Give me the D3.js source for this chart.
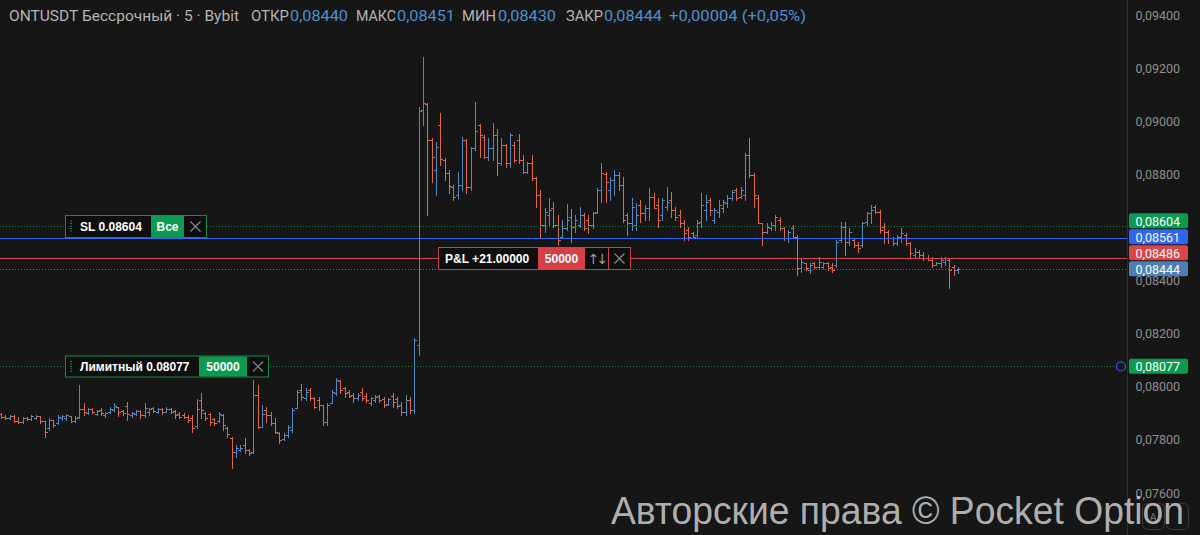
<!DOCTYPE html>
<html><head><meta charset="utf-8">
<script src="https://cdn.jsdelivr.net/npm/d3@7"></script>
<style>html,body{margin:0;padding:0;background:#161616;overflow:hidden}</style>
</head><body><svg id="c" width="1200" height="535"></svg>
<script>
// ---------- DATA ----------
const opens = [
0.07898,0.07887,0.07883,0.07890,0.07871,0.07868,0.07883,0.07879,0.07883,0.07890,
0.07871,0.07845,0.07875,0.07864,0.07883,0.07883,0.07890,0.07871,0.07887,0.07917,
0.07902,0.07917,0.07898,0.07913,0.07894,0.07905,0.07913,0.07924,0.07909,0.07928,
0.07894,0.07898,0.07909,0.07894,0.07905,0.07920,0.07905,0.07917,0.07905,0.07917,
0.07909,0.07898,0.07894,0.07887,0.07883,0.07853,0.07950,0.07902,0.07898,0.07879,
0.07871,0.07894,0.07845,0.07807,0.07755,0.07762,0.07781,0.07762,0.07755,0.07969,
0.07849,0.07913,0.07894,0.07864,0.07826,0.07804,0.07819,0.07838,0.07920,0.07988,
0.07958,0.07988,0.07958,0.07950,0.07932,0.07868,0.07939,0.07977,0.08022,0.07996,
0.07981,0.07969,0.07958,0.07981,0.07966,0.07939,0.07950,0.07966,0.07954,0.07935,
0.07966,0.07954,0.07932,0.07905,0.07950,0.07913,0.08158,0.09042,0.09065,0.08929,
0.08816,0.08986,0.08854,0.08805,0.08752,0.08722,0.08760,0.08929,0.08752,0.08899,
0.08986,0.08941,0.08865,0.08899,0.08948,0.08843,0.08911,0.08843,0.08911,0.08929,
0.08854,0.08809,0.08843,0.08786,0.08722,0.08609,0.08647,0.08673,0.08609,0.08564,
0.08598,0.08640,0.08602,0.08609,0.08647,0.08628,0.08609,0.08658,0.08741,0.08801,
0.08741,0.08779,0.08798,0.08760,0.08647,0.08617,0.08609,0.08685,0.08655,0.08673,
0.08715,0.08685,0.08647,0.08677,0.08704,0.08666,0.08647,0.08617,0.08591,0.08579,
0.08572,0.08621,0.08666,0.08704,0.08628,0.08658,0.08673,0.08692,0.08711,0.08741,
0.08715,0.08722,0.08873,0.08798,0.08711,0.08617,0.08583,0.08598,0.08609,0.08628,
0.08598,0.08560,0.08598,0.08564,0.08447,0.08466,0.08440,0.08466,0.08451,0.08451,
0.08466,0.08451,0.08459,0.08553,0.08602,0.08545,0.08553,0.08534,0.08534,0.08621,
0.08655,0.08677,0.08658,0.08602,0.08583,0.08560,0.08542,0.08564,0.08572,0.08542,
0.08496,0.08508,0.08496,0.08485,0.08478,0.08459,0.08466,0.08470,0.08478,0.08451,
0.08440];
const highs = [
0.07902,0.07894,0.07894,0.07894,0.07887,0.07887,0.07887,0.07894,0.07894,0.07890,
0.07871,0.07883,0.07875,0.07894,0.07894,0.07898,0.07890,0.07890,0.08007,0.07939,
0.07920,0.07920,0.07913,0.07920,0.07905,0.07924,0.07939,0.07924,0.07913,0.07943,
0.07905,0.07913,0.07913,0.07939,0.07920,0.07924,0.07920,0.07920,0.07924,0.07920,
0.07913,0.07905,0.07902,0.07894,0.07894,0.07954,0.07977,0.07905,0.07902,0.07883,
0.07905,0.07898,0.07849,0.07811,0.07781,0.07781,0.07807,0.07766,0.08026,0.08007,
0.07932,0.07924,0.07905,0.07883,0.07830,0.07826,0.07856,0.07920,0.07988,0.08011,
0.07996,0.07996,0.07962,0.07962,0.07932,0.07939,0.07988,0.08033,0.08026,0.07999,
0.07988,0.07977,0.07977,0.07996,0.07977,0.07962,0.07969,0.07969,0.07962,0.07958,
0.07977,0.07962,0.07943,0.07969,0.07962,0.08184,0.09054,0.09242,0.09069,0.08937,
0.08922,0.09031,0.08862,0.08816,0.08760,0.08809,0.08941,0.08933,0.08903,0.09072,
0.08990,0.08948,0.08937,0.08993,0.08971,0.08937,0.08914,0.08956,0.08922,0.08952,
0.08873,0.08847,0.08873,0.08790,0.08741,0.08673,0.08711,0.08696,0.08647,0.08628,
0.08688,0.08670,0.08647,0.08677,0.08655,0.08647,0.08658,0.08749,0.08843,0.08809,
0.08790,0.08816,0.08809,0.08790,0.08655,0.08711,0.08692,0.08704,0.08685,0.08749,
0.08730,0.08711,0.08711,0.08752,0.08734,0.08677,0.08666,0.08628,0.08602,0.08583,
0.08628,0.08730,0.08722,0.08711,0.08673,0.08704,0.08704,0.08722,0.08741,0.08749,
0.08752,0.08880,0.08937,0.08805,0.08722,0.08617,0.08617,0.08621,0.08647,0.08640,
0.08602,0.08591,0.08609,0.08572,0.08485,0.08466,0.08466,0.08470,0.08489,0.08470,
0.08470,0.08466,0.08553,0.08621,0.08621,0.08598,0.08560,0.08545,0.08621,0.08658,
0.08685,0.08685,0.08666,0.08617,0.08591,0.08564,0.08572,0.08598,0.08579,0.08545,
0.08523,0.08515,0.08508,0.08496,0.08489,0.08470,0.08489,0.08489,0.08485,0.08459,
0.08451];
const lows = [
0.07883,0.07879,0.07879,0.07868,0.07864,0.07864,0.07875,0.07875,0.07879,0.07864,
0.07811,0.07838,0.07849,0.07860,0.07875,0.07875,0.07868,0.07868,0.07883,0.07894,
0.07898,0.07902,0.07894,0.07894,0.07887,0.07902,0.07909,0.07890,0.07894,0.07875,
0.07887,0.07894,0.07883,0.07887,0.07894,0.07905,0.07902,0.07898,0.07905,0.07902,
0.07883,0.07883,0.07883,0.07868,0.07830,0.07845,0.07883,0.07875,0.07856,0.07856,
0.07868,0.07838,0.07811,0.07694,0.07736,0.07758,0.07751,0.07743,0.07751,0.07845,
0.07849,0.07868,0.07856,0.07826,0.07789,0.07800,0.07811,0.07830,0.07920,0.07950,
0.07950,0.07950,0.07920,0.07913,0.07856,0.07856,0.07939,0.07969,0.07977,0.07962,
0.07962,0.07943,0.07950,0.07950,0.07943,0.07932,0.07943,0.07943,0.07924,0.07932,
0.07924,0.07920,0.07894,0.07894,0.07902,0.07902,0.08120,0.08986,0.08647,0.08771,
0.08722,0.08835,0.08779,0.08730,0.08704,0.08711,0.08741,0.08730,0.08741,0.08892,
0.08865,0.08862,0.08854,0.08854,0.08798,0.08835,0.08828,0.08828,0.08847,0.08843,
0.08805,0.08805,0.08779,0.08677,0.08560,0.08583,0.08609,0.08602,0.08534,0.08560,
0.08591,0.08545,0.08583,0.08602,0.08591,0.08579,0.08598,0.08655,0.08696,0.08696,
0.08704,0.08722,0.08741,0.08621,0.08572,0.08591,0.08591,0.08621,0.08628,0.08628,
0.08673,0.08602,0.08628,0.08666,0.08640,0.08628,0.08602,0.08553,0.08553,0.08560,
0.08564,0.08602,0.08628,0.08647,0.08617,0.08640,0.08658,0.08677,0.08704,0.08704,
0.08711,0.08704,0.08790,0.08677,0.08617,0.08534,0.08579,0.08591,0.08591,0.08591,
0.08553,0.08545,0.08564,0.08421,0.08432,0.08440,0.08429,0.08447,0.08447,0.08447,
0.08440,0.08432,0.08451,0.08545,0.08496,0.08534,0.08527,0.08508,0.08527,0.08609,
0.08617,0.08655,0.08579,0.08542,0.08542,0.08534,0.08534,0.08545,0.08534,0.08489,
0.08489,0.08489,0.08478,0.08478,0.08451,0.08459,0.08451,0.08459,0.08372,0.08421,
0.08430];
const closes = [
0.07887,0.07883,0.07890,0.07871,0.07868,0.07883,0.07879,0.07890,0.07890,0.07871,
0.07830,0.07875,0.07856,0.07887,0.07890,0.07894,0.07871,0.07883,0.07917,0.07905,
0.07917,0.07905,0.07909,0.07902,0.07902,0.07917,0.07928,0.07905,0.07902,0.07898,
0.07902,0.07909,0.07894,0.07920,0.07917,0.07909,0.07917,0.07905,0.07917,0.07905,
0.07894,0.07887,0.07887,0.07875,0.07845,0.07917,0.07913,0.07883,0.07868,0.07864,
0.07898,0.07856,0.07823,0.07755,0.07770,0.07770,0.07762,0.07751,0.07969,0.07849,
0.07898,0.07894,0.07864,0.07830,0.07800,0.07819,0.07849,0.07913,0.07981,0.07962,
0.07981,0.07958,0.07924,0.07932,0.07868,0.07932,0.07981,0.08026,0.07988,0.07977,
0.07966,0.07958,0.07969,0.07958,0.07950,0.07958,0.07962,0.07950,0.07932,0.07954,
0.07943,0.07928,0.07905,0.07950,0.07913,0.08176,0.09039,0.09069,0.08929,0.08865,
0.08903,0.08858,0.08805,0.08756,0.08715,0.08760,0.08929,0.08752,0.08899,0.08963,
0.08948,0.08865,0.08899,0.08948,0.08843,0.08911,0.08843,0.08948,0.08854,0.08854,
0.08809,0.08843,0.08786,0.08722,0.08609,0.08658,0.08666,0.08609,0.08553,0.08598,
0.08628,0.08602,0.08628,0.08647,0.08598,0.08609,0.08655,0.08741,0.08805,0.08771,
0.08779,0.08798,0.08760,0.08628,0.08617,0.08677,0.08647,0.08655,0.08673,0.08715,
0.08673,0.08628,0.08704,0.08696,0.08666,0.08640,0.08617,0.08579,0.08564,0.08564,
0.08617,0.08685,0.08696,0.08666,0.08666,0.08685,0.08696,0.08711,0.08734,0.08711,
0.08741,0.08873,0.08798,0.08722,0.08617,0.08583,0.08602,0.08609,0.08640,0.08598,
0.08560,0.08583,0.08564,0.08447,0.08470,0.08447,0.08459,0.08451,0.08470,0.08466,
0.08447,0.08440,0.08545,0.08602,0.08545,0.08583,0.08534,0.08523,0.08617,0.08655,
0.08666,0.08658,0.08591,0.08583,0.08560,0.08542,0.08564,0.08579,0.08542,0.08504,
0.08508,0.08496,0.08485,0.08478,0.08459,0.08466,0.08478,0.08485,0.08440,0.08440,
0.08444];

// visible axis ticks (0,08600 is hidden behind the price boxes in the reference)
const yTicks = [0.076,0.078,0.080,0.082,0.084,0.088,0.090,0.092,0.094];

// price levels (order: SL, position, P&L/entry, last price, limit)
const levelPrices = [0.08604, 0.08561, 0.08486, 0.08444, 0.08077];
const levelKinds  = ["sl", "pos", "pnl", "last", "limit"];

const titleParts = [
  ["ONTUSDT Бессрочный · 5 · Bybit", "lab"],
  ["ОТКР", "lab"], ["0,08440", "val"],
  ["МАКС", "lab"], ["0,08451", "val"],
  ["МИН", "lab"], ["0,08430", "val"],
  ["ЗАКР", "lab"], ["0,08444", "val"],
  ["+0,00004 (+0,05%)", "val"]
];
const slText = "SL 0.08604", slBtn = "Все";
const limitText = "Лимитный 0.08077", limitQty = "50000";
const pnlText = "P&L +21.00000", pnlQty = "50000";
const watermark = "Авторские права © Pocket Option";

// ---------- RENDER ----------
const W = 1200, H = 535, plotRight = 1127.5;
const N = closes.length;
const svg = d3.select("#c");
svg.append("rect").attr("width", W).attr("height", H).attr("fill", "#161616");

const x = d3.scaleLinear().domain([0, N - 1]).range([1, 958]);
const y = d3.scaleLinear().domain([0.076, 0.094]).range([493, 15]);
const fmt = d => d3.format(".5f")(d).replace(".", ",");
const UP = "#5689c0", DOWN = "#e0674a";

// OHLC bars
const px = i => Math.round(x(i)) + 0.5;
const py = v => Math.round(y(v)) + 0.5;
svg.append("g").selectAll("path").data(d3.range(N)).join("path")
  .attr("fill", "none").attr("stroke-width", 1)
  .attr("stroke", i => closes[i] > opens[i] ? UP : DOWN)
  .attr("d", i => `M${px(i)},${Math.round(y(highs[i]))}V${Math.round(y(lows[i])) + 1}` +
                  `M${px(i) - 2.5},${py(opens[i])}H${px(i)}` +
                  `M${px(i)},${py(closes[i])}H${px(i) + 2.5}`);

// level lines
const lineStyle = {
  sl:    {stroke: "#16833f", dash: "1 2"},
  pos:   {stroke: "#2f66f2", dash: null},
  pnl:   {stroke: "#d2484b", dash: null},
  last:  {stroke: "#4d79a6", dash: "1 2"},
  limit: {stroke: "#16833f", dash: "1 2"}
};
levelPrices.forEach((p, k) => {
  const st = lineStyle[levelKinds[k]];
  svg.append("line").attr("x1", 0).attr("x2", plotRight).attr("y1", py(p)).attr("y2", py(p))
    .attr("stroke", st.stroke).attr("stroke-width", 1).attr("stroke-dasharray", st.dash);
});

// axis
svg.append("line").attr("x1", plotRight).attr("x2", plotRight).attr("y1", 0).attr("y2", H)
  .attr("stroke", "#2e2e2e");
const gA = svg.append("g").attr("transform", `translate(${plotRight},0)`)
  .call(d3.axisRight(y).tickValues(yTicks).tickSize(0).tickPadding(8).tickFormat(fmt));
gA.select(".domain").remove();
gA.selectAll("text").attr("fill", "#8e8e8e").attr("font-size", 12.5)
  .attr("font-family", "Roboto, 'Noto Sans', sans-serif");

// axis price boxes (resolve overlaps bottom-up)
const boxFill = {sl: "#0b9a50", pos: "#2f66f5", pnl: "#d94548", last: "#4b7fb6", limit: "#0b9a50"};
const boxH = 16;
const order = [3, 2, 1, 0];
const pos = {};
let prev = null;
order.forEach(k => {
  let c = y(levelPrices[k]);
  if (prev !== null && c > prev - boxH) c = prev - boxH;
  pos[k] = c; prev = c;
});
pos[4] = y(levelPrices[4]);
levelPrices.forEach((p, k) => {
  const c = pos[k];
  const g = svg.append("g");
  g.append("rect").attr("x", plotRight + 1.5).attr("y", c - boxH / 2 + 0.5).attr("width", 59)
    .attr("height", boxH - 1).attr("rx", 2).attr("fill", boxFill[levelKinds[k]]);
  g.append("text").attr("x", plotRight + 8).attr("y", c + 0.5).attr("dy", "0.35em")
    .attr("fill", "#ffffff").attr("font-size", 12.5)
    .attr("font-family", "Roboto, 'Noto Sans', sans-serif").text(fmt(p));
});

// small circle at limit level near the axis
svg.append("circle").attr("cx", 1121).attr("cy", py(levelPrices[4])).attr("r", 4.5)
  .attr("fill", "#161616").attr("stroke", "#2f66f5").attr("stroke-width", 1.2);

// order labels on chart
const labFont = "'Liberation Sans', Arial, sans-serif";
function xMark(g, cx, cy, col) {
  g.append("path").attr("d", `M${cx - 5},${cy - 5}L${cx + 5},${cy + 5}M${cx + 5},${cy - 5}L${cx - 5},${cy + 5}`)
    .attr("stroke", col).attr("stroke-width", 1.2);
}
function orderBox(opt) {
  const cy = py(opt.price);
  const top = cy - opt.h / 2, g = svg.append("g");
  g.append("rect").attr("x", opt.x0).attr("y", top).attr("width", opt.x3 - opt.x0).attr("height", opt.h)
    .attr("fill", "#0e0e0e").attr("stroke", opt.border).attr("stroke-width", 1);
  g.append("rect").attr("x", opt.x1).attr("y", top + 0.5).attr("width", opt.x2 - opt.x1).attr("height", opt.h - 1)
    .attr("fill", opt.accent);
  if (opt.handle) {
    g.append("line").attr("x1", opt.x0 + 5.5).attr("x2", opt.x0 + 5.5).attr("y1", top + 5).attr("y2", top + opt.h - 5)
      .attr("stroke", opt.border).attr("stroke-width", 2).attr("stroke-dasharray", "1 1.5");
  }
  g.append("text").attr("x", opt.tx).attr("y", cy).attr("dy", "0.36em").attr("fill", "#ffffff")
    .attr("font-weight", "bold").attr("font-size", 12).attr("font-family", labFont).text(opt.text);
  g.append("text").attr("x", (opt.x1 + opt.x2) / 2).attr("y", cy).attr("dy", "0.36em").attr("text-anchor", "middle")
    .attr("fill", "#ffffff").attr("font-weight", "bold").attr("font-size", 12).attr("font-family", labFont).text(opt.btn);
  return {g, cy, top};
}
// SL
let b = orderBox({price: levelPrices[0], x0: 65.5, x1: 151, x2: 184, x3: 206.5, h: 22, border: "#178c47",
  accent: "#0b9a50", handle: true, tx: 80, text: slText, btn: slBtn});
xMark(b.g, 195.5, b.cy, "#8a8a8a");
// Limit
b = orderBox({price: levelPrices[4], x0: 65.5, x1: 199, x2: 247, x3: 268.5, h: 21, border: "#178c47",
  accent: "#0b9a50", handle: true, tx: 80, text: limitText, btn: limitQty});
xMark(b.g, 258, b.cy, "#8a8a8a");
// P&L
b = orderBox({price: levelPrices[2], x0: 438.5, x1: 538, x2: 585, x3: 630.5, h: 22, border: "#c6434a",
  accent: "#d63f46", handle: false, tx: 445, text: pnlText, btn: pnlQty});
b.g.append("line").attr("x1", 608.5).attr("x2", 608.5).attr("y1", b.top).attr("y2", b.top + 22).attr("stroke", "#c6434a");
b.g.append("text").attr("x", 596.5).attr("y", b.cy).attr("dy", "0.36em").attr("text-anchor", "middle")
  .attr("fill", "#9a9a9a").attr("font-size", 14).attr("font-family", "'DejaVu Sans', sans-serif").text("↑↓")
  .attr("letter-spacing", -3);
xMark(b.g, 619.5, b.cy, "#8a8a8a");

// title
const tt = svg.append("text").attr("y", 21).attr("font-size", 15)
  .attr("font-family", "Roboto, 'Noto Sans', sans-serif");
const titleX = [9, 251, 290, 356, 397, 462, 498, 566, 604, 669];
const titleW = [230, 38, 58, 40, 58, 34, 58, 37, 58, 137];
titleParts.forEach((t, k) => {
  tt.append("tspan").attr("x", titleX[k]).attr("textLength", titleW[k]).attr("lengthAdjust", "spacingAndGlyphs")
    .attr("fill", t[1] === "val" ? "#4f8fcf" : "#b4b4b4").text(t[0]);
});

// bottom-right buttons
[[1142, "A"], [1166, ""]].forEach(([bx, s]) => {
  svg.append("rect").attr("x", bx + 0.5).attr("y", 503.5).attr("width", 22).attr("height", 26).attr("rx", 5)
    .attr("fill", "none").attr("stroke", "#3c3c3c");
  if (s) svg.append("text").attr("x", bx + 11).attr("y", 521).attr("text-anchor", "middle").attr("fill", "#777")
    .attr("font-size", 11).attr("font-family", "Roboto, sans-serif").text(s);
});

// watermark
svg.append("text").attr("x", 611).attr("y", 524).attr("fill", "#c4c4c4").attr("fill-opacity", 0.9)
  .attr("font-size", 38).attr("font-family", "'Liberation Sans', Arial, sans-serif")
  .attr("textLength", 573).attr("lengthAdjust", "spacingAndGlyphs").text(watermark);
</script>
</body></html>
